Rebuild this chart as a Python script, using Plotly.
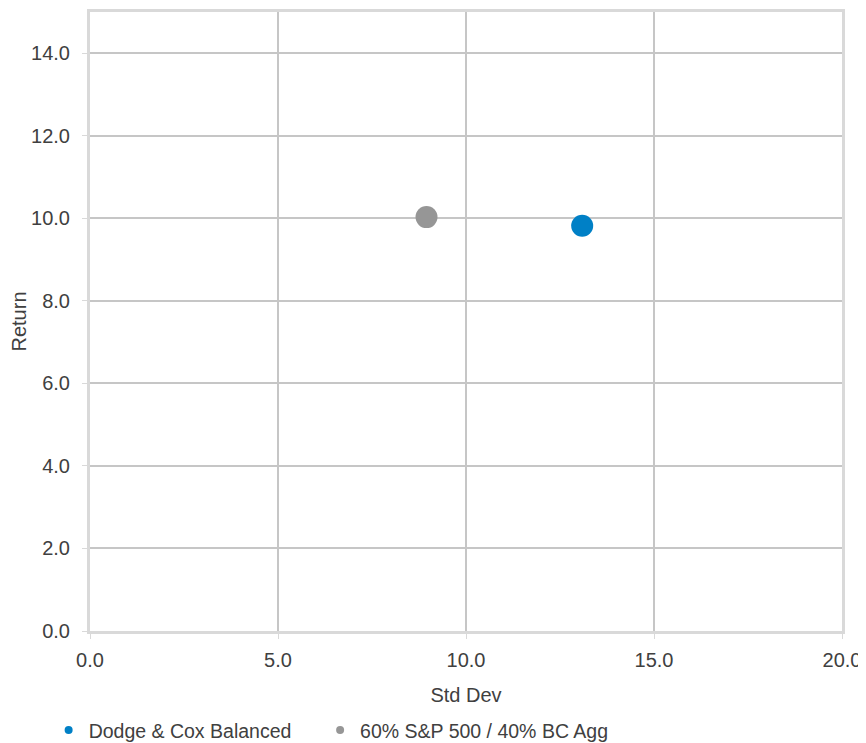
import plotly.graph_objects as go

series_names = ["Dodge & Cox Balanced", "60% S&P 500 / 40% BC Agg"]
std_dev = [13.09, 8.95]
returns = [9.82, 10.03]
colors = ["#0080C6", "#969696"]

x_ticks = [0, 5, 10, 15, 20]
y_ticks = [0, 2, 4, 6, 8, 10, 12, 14]

FONT = "Liberation Sans, Arial, sans-serif"
TXT = "#404040"

fig = go.Figure()
for name, x, y, c in zip(series_names, std_dev, returns, colors):
    fig.add_trace(go.Scatter(
        x=[x], y=[y], mode="markers", name=name, showlegend=False,
        marker=dict(size=22, color=c, line=dict(width=0)),
    ))
# legend entries with small symbols, one legend box per series
legend_ids = ["legend", "legend2"]
for name, c, lg in zip(series_names, colors, legend_ids):
    fig.add_trace(go.Scatter(
        x=[None], y=[None], mode="markers", name=name, showlegend=True,
        legend=lg,
        marker=dict(size=8, color=c, line=dict(width=0)),
    ))

axis_common = dict(
    showgrid=True, gridcolor="#C6C6C6", gridwidth=2,
    showline=True, linecolor="#D9D9D9", linewidth=3, mirror=True,
    ticks="outside", ticklen=5, tickcolor="#D9D9D9", tickwidth=1,
    zeroline=False, tickformat=".1f",
    tickfont=dict(size=20, color=TXT, family=FONT),
)

legend_common = dict(
    orientation="h", xanchor="left", y=-0.1605, yanchor="middle",
    font=dict(size=19.5, color=TXT, family=FONT),
    itemsizing="trace", bgcolor="rgba(0,0,0,0)",
)

fig.update_layout(
    width=866, height=743,
    margin=dict(l=82, r=32, t=1, b=119),
    paper_bgcolor="white", plot_bgcolor="white",
    font=dict(family=FONT, color=TXT),
    xaxis=dict(range=[0, 20], tickvals=x_ticks,
               title=dict(text="Std Dev", font=dict(size=20, color=TXT), standoff=18),
               ticklabelstandoff=4,
               **axis_common),
    yaxis=dict(range=[0, 15], tickvals=y_ticks,
               title=dict(text="Return", font=dict(size=20, color=TXT), standoff=6),
               ticklabelstandoff=8,
               **axis_common),
    showlegend=True,
    legend=dict(x=-0.055, **legend_common),
    legend2=dict(x=0.306, **legend_common),
)

fig.write_html("out.html")
